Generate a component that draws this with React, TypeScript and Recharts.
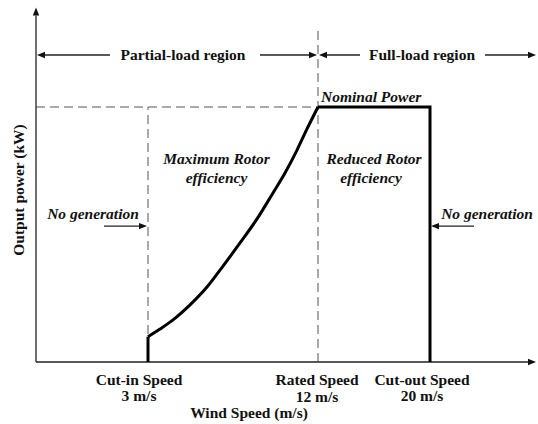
import { LineChart, Line, XAxis, YAxis, ReferenceLine, ReferenceDot } from "recharts"

// x values are schematic positions along the wind-speed axis (0-100), power in % of nominal (0-140)
const cutIn = 22.4
const rated = 56.4
const cutOut = 78.8
const nominal = 100

const tickPos = [cutIn, rated, cutOut]
const tickNames = ["Cut-in Speed", "Rated Speed", "Cut-out Speed"]
const tickSpeeds = ["3 m/s", "12 m/s", "20 m/s"]

const curvePos = [22.4, 24.8, 27.4, 30.8, 34.2, 37.4, 40.8, 44.2, 47.4, 49.8, 52.2, 54.2, 56.4]
const curvePower = [9.9, 12.9, 16.5, 22.4, 29.4, 37.6, 46.7, 56.1, 66.3, 74.1, 83.1, 91.4, 100]

const cutInPos = [cutIn, cutIn]
const cutInPower = [0, 9.9]

const fullPos = [rated, cutOut, cutOut]
const fullPower = [nominal, nominal, 0]

const toRows = (xs: number[], ys: number[]) => xs.map((pos, i) => ({ pos, power: ys[i] }))

const curveData = toRows(curvePos, curvePower)
const cutInData = toRows(cutInPos, cutInPower)
const fullData = toRows(fullPos, fullPower)

const FONT = "'Liberation Serif', 'Times New Roman', serif"
const FS = 15.5
const tickOffsets = [-9, -1, -8]
const tickLower = [0, 1.5, 0]

// arrows: [fromPos, fromPower, toPos, toPower]
const arrows: [number, number, number, number][] = [
  [0, 0, 100, 0],
  [0, 0, 0, 139],
  [14.8, 120.4, 0.2, 120.4],
  [44.8, 120.4, 56.2, 120.4],
  [64.8, 120.4, 56.6, 120.4],
  [89.8, 120.4, 100, 120.4],
  [13.6, 53.3, 22.2, 53.3],
  [87.6, 53.3, 79.0, 53.3],
]

const notes = [
  { pos: 29.4, power: 118.4, text: "Partial-load region", italic: false, anchor: "middle" },
  { pos: 77.2, power: 118.4, text: "Full-load region", italic: false, anchor: "middle" },
  { pos: 57.0, power: 102.0, text: "Nominal Power", italic: true, anchor: "start" },
  { pos: 36.1, power: 77.6, text: "Maximum Rotor", italic: true, anchor: "middle" },
  { pos: 36.1, power: 70.2, text: "efficiency", italic: true, anchor: "middle" },
  { pos: 67.6, power: 77.6, text: "Reduced Rotor", italic: true, anchor: "middle" },
  { pos: 67.0, power: 70.2, text: "efficiency", italic: true, anchor: "middle" },
  { pos: 11.4, power: 56.1, text: "No generation", italic: true, anchor: "middle" },
  { pos: 90.2, power: 56.1, text: "No generation", italic: true, anchor: "middle" },
]

const ArrowShape = (props: any) => {
  const { x1, y1, x2, y2 } = props
  const dx = x2 - x1
  const dy = y2 - y1
  const len = Math.sqrt(dx * dx + dy * dy) || 1
  const ux = dx / len
  const uy = dy / len
  const L = 8
  const W = 3.2
  const bx = x2 - ux * L
  const by = y2 - uy * L
  return (
    <g>
      <line x1={x1} y1={y1} x2={bx} y2={by} stroke="#222" strokeWidth={1.3} />
      <polygon
        points={`${x2},${y2} ${bx - uy * W},${by + ux * W} ${bx + uy * W},${by - ux * W}`}
        fill="#111"
      />
    </g>
  )
}

const SpeedTick = (props: any) => {
  const { x, y, payload } = props
  const i = tickPos.indexOf(payload.value)
  if (i < 0) return null
  const cx = x + tickOffsets[i]
  return (
    <g fontFamily={FONT} fontWeight={700} fontSize={FS} fill="#111">
      <text x={cx} y={y + 15} textAnchor="middle">
        {tickNames[i]}
      </text>
      <text x={cx} y={y + 30.5 + tickLower[i]} textAnchor="middle">
        {tickSpeeds[i]}
      </text>
    </g>
  )
}

export default function App() {
  return (
    <div style={{ position: "absolute", left: 0, top: 0, background: "#fff" }}>
      <LineChart width={538} height={424} margin={{ top: 5, right: 2, left: 0, bottom: 0 }}>
        <XAxis
          type="number"
          dataKey="pos"
          domain={[0, 100]}
          ticks={tickPos}
          tick={<SpeedTick />}
          tickLine={false}
          axisLine={false}
          height={62}
          interval={0}
          label={{
            content: ({ viewBox }: any) => (
              <text
                x={viewBox.x + 213}
                y={viewBox.y + 56}
                textAnchor="middle"
                fontFamily={FONT}
                fontWeight={700}
                fontSize={FS}
                fill="#111"
              >
                Wind Speed (m/s)
              </text>
            ),
          }}
        />
        <YAxis
          type="number"
          domain={[0, 140]}
          width={36}
          tick={false}
          tickLine={false}
          axisLine={false}
          label={{
            content: ({ viewBox }: any) => {
              const cx = viewBox.x + 18
              const cy = 190
              return (
                <text
                  x={cx}
                  y={cy}
                  transform={`rotate(-90 ${cx} ${cy})`}
                  textAnchor="middle"
                  dominantBaseline="central"
                  fontFamily={FONT}
                  fontWeight={700}
                  fontSize={FS}
                  fill="#111"
                >
                  Output power (kW)
                </text>
              )
            },
          }}
        />

        <ReferenceLine
          segment={[{ x: 0, y: nominal }, { x: rated, y: nominal }]}
          stroke="#555"
          strokeDasharray="9 5"
        />
        <ReferenceLine
          segment={[{ x: cutIn, y: 0 }, { x: cutIn, y: nominal }]}
          stroke="#555"
          strokeDasharray="9 5"
        />
        <ReferenceLine
          segment={[{ x: rated, y: 0 }, { x: rated, y: 130 }]}
          stroke="#555"
          strokeDasharray="9 5"
        />

        {arrows.map((a, i) => (
          <ReferenceLine
            key={"arrow" + i}
            segment={[{ x: a[0], y: a[1] }, { x: a[2], y: a[3] }]}
            ifOverflow="visible"
            shape={ArrowShape}
          />
        ))}

        <Line
          data={cutInData}
          dataKey="power"
          type="linear"
          stroke="#000"
          strokeWidth={3}
          dot={false}
          isAnimationActive={false}
        />
        <Line
          data={curveData}
          dataKey="power"
          type="monotone"
          stroke="#000"
          strokeWidth={3}
          dot={false}
          isAnimationActive={false}
        />
        <Line
          data={fullData}
          dataKey="power"
          type="linear"
          stroke="#000"
          strokeWidth={3}
          dot={false}
          isAnimationActive={false}
        />

        {notes.map((n, i) => (
          <ReferenceDot
            key={"note" + i}
            x={n.pos}
            y={n.power}
            r={0}
            ifOverflow="visible"
            shape={(p: any) => (
              <text
                x={p.cx}
                y={p.cy}
                textAnchor={n.anchor as any}
                fontFamily={FONT}
                fontWeight={700}
                fontStyle={n.italic ? "italic" : "normal"}
                fontSize={FS}
                fill="#111"
              >
                {n.text}
              </text>
            )}
          />
        ))}
      </LineChart>
    </div>
  )
}
